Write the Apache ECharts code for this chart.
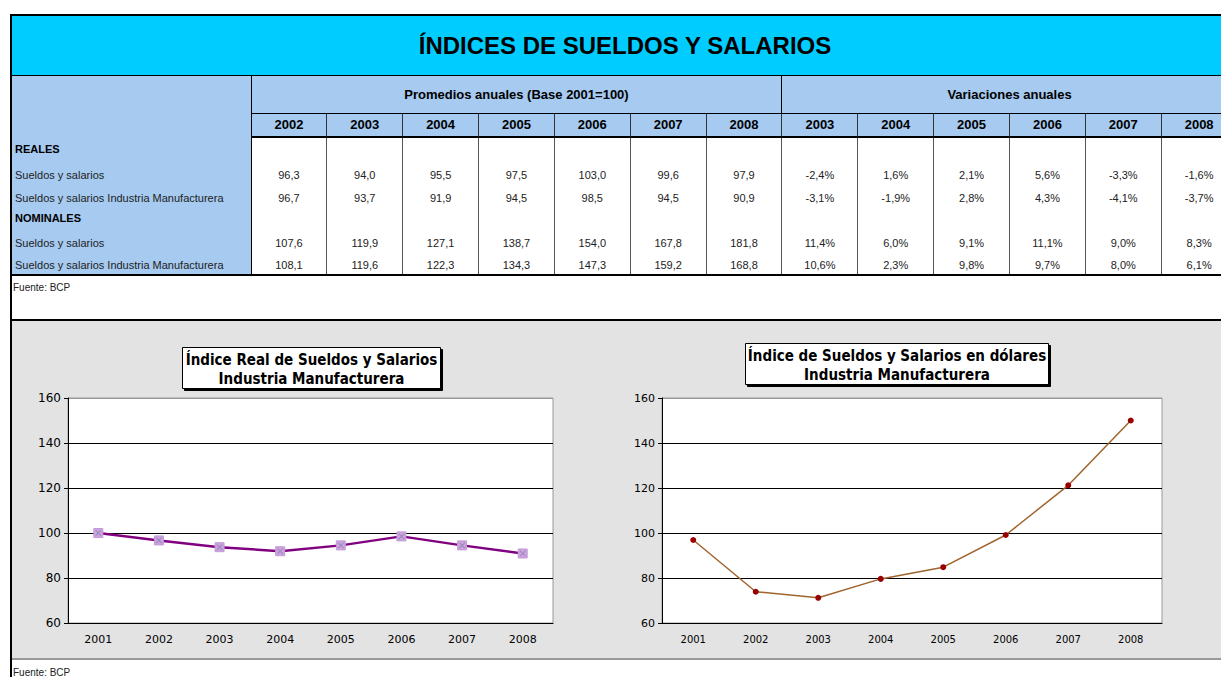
<!DOCTYPE html>
<html>
<head>
<meta charset="utf-8">
<title>Índices de sueldos y salarios</title>
<script src="https://cdn.jsdelivr.net/npm/echarts@6/dist/echarts.min.js"></script>
<style>
  body { margin: 0; background: #fff; }
  #page { position: relative; width: 1221px; height: 677px; overflow: hidden; font-family: "Liberation Sans", Arial, sans-serif; }
  #banner { position: absolute; left: 10px; top: 14px; width: 1226px; height: 59px; background: #00ccff;
            border-top: 2px solid #000; border-left: 2px solid #000; border-bottom: 1px solid #000;
            text-align: center; line-height: 60px; font-family: "Liberation Sans", Arial, sans-serif;
            font-weight: bold; font-size: 24px; color: #000; }
  #leftline { position: absolute; left: 10px; top: 14px; width: 2px; height: 700px; background: #000; }
  #tbl { position: absolute; left: 10px; top: 75px; width: 1226px; border-collapse: collapse; table-layout: fixed; }
  #tbl td { padding: 0; font-size: 11px; color: #222; text-align: center; overflow: hidden; white-space: nowrap; }
  #tbl td.lab { background: #a6caf0; text-align: left; padding-left: 3px; border-right: 1px solid #000; border-left: 2px solid #000;
                vertical-align: bottom; padding-bottom: 3px; }
  #tbl td.grp { background: #a6caf0; font-weight: bold; font-size: 13px; color: #000; border: 1px solid #000; }
  #tbl td.yr { background: #a6caf0; font-weight: bold; font-size: 13px; color: #000; border: 1px solid #333; border-bottom: 2px solid #000; }
  #tbl td.val { border-left: 1px solid #555; border-right: 1px solid #555; vertical-align: bottom; padding-bottom: 3px; }
  #tbl tr.last td { border-bottom: 2px solid #000; }
  #tbl td.sec { font-weight: bold; color: #000; vertical-align: middle; padding-bottom: 0; }
  .fuente { position: absolute; left: 13px; font-size: 10px; color: #222; }
  #sep { position: absolute; left: 10px; top: 319px; width: 1211px; height: 2px; background: #000; }
  #charts { position: absolute; left: 12px; top: 321px; width: 1209px; height: 337px; background: #e3e3e3; border-bottom: 2px solid #999; }
</style>
</head>
<body>
<div id="page">
  <div id="banner">ÍNDICES DE SUELDOS Y SALARIOS</div>
  <table id="tbl"></table>
  <div class="fuente" style="top:282px">Fuente: BCP</div>
  <div id="sep"></div>
  <div id="charts"></div>
  <div class="fuente" style="top:667px">Fuente: BCP</div>
  <div id="leftline"></div>
</div>
<script>
// tabla
var yearsIdx = ['2002', '2003', '2004', '2005', '2006', '2007', '2008'];
var yearsVar = ['2003', '2004', '2005', '2006', '2007', '2008'];
var realSS = [96.3, 94.0, 95.5, 97.5, 103.0, 99.6, 97.9];
var realIM = [96.7, 93.7, 91.9, 94.5, 98.5, 94.5, 90.9];
var nomSS = [107.6, 119.9, 127.1, 138.7, 154.0, 167.8, 181.8];
var nomIM = [108.1, 119.6, 122.3, 134.3, 147.3, 159.2, 168.8];
var varRealSS = [-2.4, 1.6, 2.1, 5.6, -3.3, -1.6];
var varRealIM = [-3.1, -1.9, 2.8, 4.3, -4.1, -3.7];
var varNomSS = [11.4, 6.0, 9.1, 11.1, 9.0, 8.3];
var varNomIM = [10.6, 2.3, 9.8, 9.7, 8.0, 6.1];

// graficos
var catYears = ['2001', '2002', '2003', '2004', '2005', '2006', '2007', '2008'];
var realIndex = [100.0, 96.7, 93.7, 91.9, 94.5, 98.5, 94.5, 90.9];
var usdIndex = [96.9, 73.9, 71.2, 79.6, 84.8, 99.1, 121.2, 150.0];
var yTicks = [60, 80, 100, 120, 140, 160];

function fmt(v) { return v.toFixed(1).replace('.', ','); }

function buildTable() {
  var colW = (1226 - 240) / 13;
  var html = '<colgroup><col style="width:240px">';
  for (var i = 0; i < 13; i++) html += '<col style="width:' + colW + 'px">';
  html += '</colgroup>';
  html += '<tr style="height:38px"><td class="lab" rowspan="2"></td>' +
    '<td class="grp" colspan="7">Promedios anuales (Base 2001=100)</td>' +
    '<td class="grp" colspan="6">Variaciones anuales</td></tr>';
  html += '<tr style="height:23px">';
  yearsIdx.concat(yearsVar).forEach(function (y) { html += '<td class="yr">' + y + '</td>'; });
  html += '</tr>';
  var rows = [
    { label: 'REALES', sec: true, h: 24 },
    { label: 'Sueldos y salarios', idx: realSS, vr: varRealSS, h: 23 },
    { label: 'Sueldos y salarios Industria Manufacturera', idx: realIM, vr: varRealIM, h: 23 },
    { label: 'NOMINALES', sec: true, h: 22 },
    { label: 'Sueldos y salarios', idx: nomSS, vr: varNomSS, h: 23 },
    { label: 'Sueldos y salarios Industria Manufacturera', idx: nomIM, vr: varNomIM, h: 23, last: true }
  ];
  rows.forEach(function (r) {
    html += '<tr style="height:' + r.h + 'px"' + (r.last ? ' class="last"' : '') + '>';
    html += '<td class="lab' + (r.sec ? ' sec' : '') + '">' + r.label + '</td>';
    for (var i = 0; i < 7; i++) html += '<td class="val">' + (r.idx ? fmt(r.idx[i]) : '') + '</td>';
    for (var j = 0; j < 6; j++) html += '<td class="val">' + (r.vr ? fmt(r.vr[j]) + '%' : '') + '</td>';
    html += '</tr>';
  });
  document.getElementById('tbl').innerHTML = html;
}
buildTable();

function titleBox(x, y, w, h, lines) {
  return {
    type: 'group', left: x, top: y,
    children: [
      { type: 'rect', shape: { x: 0, y: 0, width: w, height: h },
        style: { fill: '#fff', stroke: '#000', lineWidth: 1, shadowColor: '#000', shadowOffsetX: 2, shadowOffsetY: 2, shadowBlur: 0 } },
      { type: 'text', x: w / 2, y: h / 2 + 1,
        style: { text: lines.join('\n'), align: 'center', verticalAlign: 'middle', lineHeight: 19,
                 font: 'bold 15px "DejaVu Sans Condensed", "DejaVu Sans", sans-serif', fill: '#000' } }
    ]
  };
}

function axisPair(gi, labSize) {
  return {
    x: {
      type: 'category', gridIndex: gi, data: catYears, boundaryGap: true,
      axisLine: { lineStyle: { color: '#000', width: 1 } },
      axisTick: { length: 5, lineStyle: { color: '#000' } },
      axisLabel: { color: '#000', fontSize: labSize, fontFamily: 'DejaVu Sans', margin: 11 }
    },
    y: {
      type: 'value', gridIndex: gi, min: yTicks[0], max: yTicks[yTicks.length - 1], interval: 20,
      axisLine: { show: true, lineStyle: { color: '#000', width: 1 } },
      axisTick: { show: true, length: 4, lineStyle: { color: '#000' } },
      splitLine: { lineStyle: { color: ['#000', '#000', '#000', '#000', '#000', '#999'], width: 1 } },
      axisLabel: { color: '#000', fontSize: labSize + 1, fontFamily: 'DejaVu Sans', margin: 7 }
    }
  };
}

var chart = echarts.init(document.getElementById('charts'), null, { renderer: 'svg' });
var a0 = axisPair(0, 11), a1 = axisPair(1, 10);
chart.setOption({
  animation: false,
  grid: [
    { left: 56, top: 77, width: 485, height: 225, show: true, backgroundColor: '#fff', borderColor: '#999', borderWidth: 1 },
    { left: 650, top: 77, width: 500, height: 225, show: true, backgroundColor: '#fff', borderColor: '#999', borderWidth: 1 }
  ],
  xAxis: [a0.x, a1.x],
  yAxis: [a0.y, a1.y],
  graphic: [
    titleBox(170, 26, 258, 41, ['Índice Real de Sueldos y Salarios', 'Industria Manufacturera']),
    titleBox(733, 22, 303, 41, ['Índice de Sueldos y Salarios en dólares', 'Industria Manufacturera'])
  ],
  series: [
    {
      name: 'Índice Real', type: 'line', xAxisIndex: 0, yAxisIndex: 0, data: realIndex,
      lineStyle: { color: '#800080', width: 2.5 },
      symbol: 'rect', symbolSize: 9,
      itemStyle: { color: '#cca3dd', borderColor: '#c39bd8', borderWidth: 1 }
    },
    {
      name: 'marca', type: 'scatter', xAxisIndex: 0, yAxisIndex: 0, data: realIndex,
      symbol: 'path://M0,1L1,0L5,4L9,0L10,1L6,5L10,9L9,10L5,6L1,10L0,9L4,5Z', symbolSize: 6,
      itemStyle: { color: '#8080b0' }, z: 5
    },
    {
      name: 'Índice en dólares', type: 'line', xAxisIndex: 1, yAxisIndex: 1, data: usdIndex,
      lineStyle: { color: '#a0642d', width: 1.5 },
      symbol: 'circle', symbolSize: 6,
      itemStyle: { color: '#990000' }
    }
  ]
});
</script>
</body>
</html>
